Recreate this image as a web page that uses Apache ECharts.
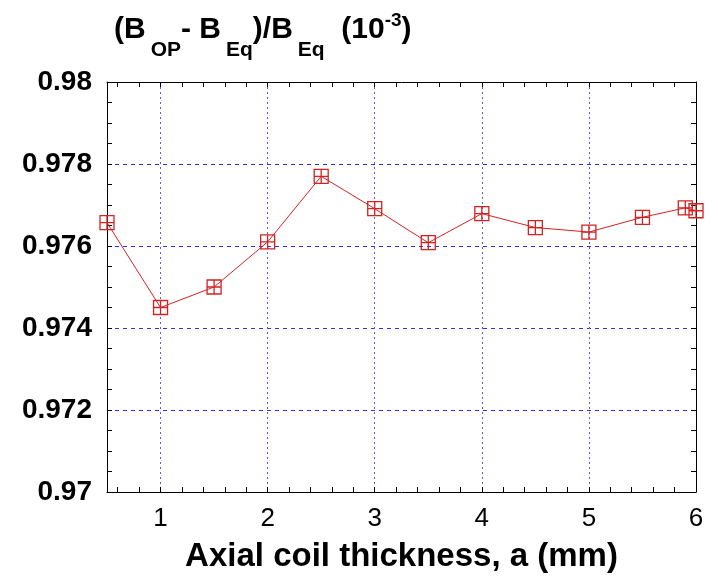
<!DOCTYPE html>
<html>
<head>
<meta charset="utf-8">
<script src="https://cdn.jsdelivr.net/npm/echarts@6/dist/echarts.min.js"></script>
<style>
  html, body { margin: 0; padding: 0; background: #fff; }
  #chart { width: 718px; height: 578px; }
</style>
</head>
<body>
<div id="chart"></div>
<script>
// values
const thickness = [0.5, 1, 1.5, 2, 2.5, 3, 3.5, 4, 4.5, 5, 5.5, 5.9, 6];
const ratio = [0.97657, 0.97450, 0.97500, 0.97610, 0.97770, 0.97691, 0.97608,
               0.97679, 0.97645, 0.97634, 0.97670, 0.97693, 0.97686];
const xLabels = [1, 2, 3, 4, 5, 6];
const xSmallTicks = [0.6, 0.8, 1, 1.2, 1.4, 1.6, 1.8, 2, 2.2, 2.4, 2.6, 2.8, 3, 3.2, 3.4,
                     3.6, 3.8, 4, 4.2, 4.4, 4.6, 4.8, 5, 5.2, 5.4, 5.6, 5.8];

const FONT = "Liberation Sans";
const RED = "#d42222";

const chart = echarts.init(document.getElementById("chart"));

// shared settings for the box axes
const tickStyle = { show: true, inside: true, length: 5, lineStyle: { color: "#000", width: 1 } };
const boxLine = { show: true, onZero: false, lineStyle: { color: "#000", width: 1 } };

const option = {
    animation: false,
    title: {
        text: "{m|(B}{s|OP}{m|- B}{s|Eq}{m|)/B}{s|Eq}{m|  (10}{p|-3}{m|)}",
        left: 114,
        top: 11,
        padding: 0,
        textStyle: {
            rich: {
                m: { fontFamily: FONT, fontSize: 30, fontWeight: "bold", color: "#000", padding: [4, 0, 0, 0], verticalAlign: "top" },
                s: { fontFamily: FONT, fontSize: 21, fontWeight: "bold", color: "#000", padding: [29, 0, 0, 5], verticalAlign: "top" },
                p: { fontFamily: FONT, fontSize: 19, fontWeight: "bold", color: "#000", padding: [0, 0, 0, 0], verticalAlign: "top" }
            }
        }
    },
    grid: { left: 107, right: 22, top: 82, bottom: 85, containLabel: false },
    xAxis: [
        {
            // bottom: labels + all small ticks
            type: "value", position: "bottom", min: 0.5, max: 6,
            axisLine: boxLine,
            axisTick: Object.assign({ customValues: xSmallTicks }, tickStyle),
            axisLabel: {
                customValues: xLabels, margin: 14,
                fontFamily: FONT, fontSize: 26, color: "#000"
            },
            splitLine: { show: false },
            name: "Axial coil thickness, a (mm)",
            nameLocation: "middle",
            nameGap: 48,
            nameTextStyle: { fontFamily: FONT, fontSize: 33, fontWeight: "bold", color: "#000" }
        },
        {
            // top mirror
            type: "value", position: "top", min: 0.5, max: 6,
            axisLine: boxLine,
            axisTick: Object.assign({ customValues: xSmallTicks }, tickStyle),
            axisLabel: { show: false },
            splitLine: { show: false }
        },
        {
            // grid lines only (goes to the bottom slot)
            type: "value", position: "top", min: 0.5, max: 6,
            axisLine: { show: false },
            axisTick: { show: false, customValues: xLabels },
            axisLabel: { show: false },
            splitLine: { show: true, lineStyle: { color: "#5a5af0", width: 1, type: [2, 3] } }
        }
    ],
    yAxis: [
        {
            type: "value", position: "left", min: 0.97, max: 0.98, interval: 0.002,
            axisLine: boxLine,
            axisTick: tickStyle,
            minorTick: { show: true, splitNumber: 4, length: 5, lineStyle: { color: "#000" } },
            axisLabel: {
                margin: 15, fontFamily: FONT, fontSize: 28, fontWeight: "bold", color: "#000",
                formatter: v => String(+v.toFixed(3))
            },
            splitLine: { show: true, lineStyle: { color: "#3030e8", width: 1, type: [4, 4] } }
        },
        {
            type: "value", position: "right", min: 0.97, max: 0.98, interval: 0.002,
            axisLine: boxLine,
            axisTick: tickStyle,
            minorTick: { show: true, splitNumber: 4, length: 5, lineStyle: { color: "#000" } },
            axisLabel: { show: false },
            splitLine: { show: false }
        }
    ],
    series: [
        {
            type: "line",
            data: thickness.map((x, i) => [x, ratio[i]]),
            xAxisIndex: 0,
            yAxisIndex: 0,
            symbol: "path://M0 0H10V10H0ZM5 0V10M0 5H10",
            symbolSize: 14,
            lineStyle: { color: RED, width: 1 },
            itemStyle: { color: "rgba(255,255,255,0)", borderColor: RED, borderWidth: 1.3 },
            z: 5
        }
    ]
};

chart.setOption(option);
</script>
</body>
</html>
